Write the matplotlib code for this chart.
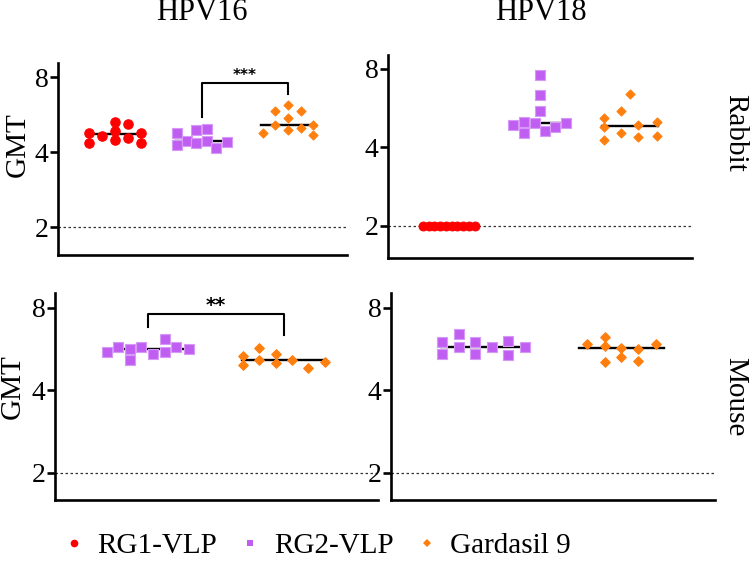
import numpy as np
import matplotlib.pyplot as plt
from matplotlib.lines import Line2D
from matplotlib.ticker import NullLocator

plt.rcParams['font.family'] = ['Liberation Serif', 'DejaVu Serif']

groups = ['RG1-VLP', 'RG2-VLP', 'Gardasil 9']
colors = ['#ff0000', '#c15ef2', '#ff7f0e']
edges = ['#ff0000', '#d59af7', '#ff7f0e']
markers = ['o', 's', 'D']

# GMT values (log2 axis)
hpv16_rabbit_rg1 = [4.78, 4.36, 4.64, 5.28, 4.84, 4.46, 5.17, 4.57, 4.77, 4.35]
hpv16_rabbit_rg2 = [4.75, 4.25, 4.42, 4.89, 4.33, 4.93, 4.42, 4.14, 4.37]
hpv16_rabbit_g9 = [4.78, 5.83, 5.12, 6.19, 5.48, 4.92, 5.83, 4.98, 5.12, 4.69]

hpv18_rabbit_rg1 = [2, 2, 2, 2, 2, 2, 2, 2, 2, 2]
hpv18_rabbit_rg2 = [4.88, 5.0, 4.53, 4.96, 7.61, 6.37, 5.50, 4.64, 4.81, 4.96]
hpv18_rabbit_g9 = [5.18, 4.81, 4.27, 5.50, 4.56, 6.41, 4.88, 4.38, 5.0, 4.44]

hpv16_mouse_rg2 = [5.54, 5.77, 5.66, 5.16, 5.74, 5.43, 6.16, 5.54, 5.74, 5.67]
hpv16_mouse_g9 = [5.34, 4.95, 5.71, 5.15, 5.42, 5.03, 5.15, 4.83, 5.06]

hpv18_mouse_rg2 = [6.02, 5.42, 6.42, 5.77, 6.0, 5.42, 5.77, 6.07, 5.40, 5.77]
hpv18_mouse_g9 = [5.92, 6.26, 5.79, 5.09, 5.69, 5.31, 5.66, 5.12, 5.93]

# horizontal scatter of the dots inside each column
sw_tl = [[-0.3, -0.3, -0.15, 0, 0, 0, 0.15, 0.15, 0.3, 0.3],
         [-0.29, -0.29, -0.17, -0.06, -0.06, 0.06, 0.06, 0.17, 0.29],
         [-0.29, -0.15, -0.15, 0, 0, 0, 0.15, 0.15, 0.29, 0.29]]
sw_tr = [list(np.linspace(-0.285, 0.285, 10)),
         [-0.29, -0.17, -0.17, -0.055, 0, 0, 0, 0.06, 0.17, 0.29],
         [-0.29, -0.29, -0.29, -0.1, -0.1, 0, 0.09, 0.09, 0.29, 0.29]]
sw_bl = [[-0.3, -0.22, -0.13, -0.13, -0.05, 0.04, 0.13, 0.13, 0.21, 0.3],
         [-0.3, -0.3, -0.18, -0.18, -0.06, -0.06, 0.06, 0.18, 0.3]]
sw_br = [[-0.3, -0.3, -0.18, -0.18, -0.06, -0.06, 0.06, 0.18, 0.18, 0.3],
         [-0.25, -0.12, -0.12, -0.12, 0, 0, 0.12, 0.12, 0.25]]


W, H = 750, 564
fig = plt.figure(figsize=(7.5, 5.64), dpi=100)


def rect(l, r, t, b):
    return [l / W, 1 - b / H, (r - l) / W, (b - t) / H]


def panel(r, series, kinds, swarm, ylo, yhi, xlim, sizes):
    ax = fig.add_axes(r)
    for i, (vals, k, off) in enumerate(zip(series, kinds, swarm)):
        xs = i + np.array(off)
        ax.scatter(xs, vals, marker=markers[k], s=sizes[k], color=colors[k],
                   edgecolors=edges[k], linewidths=0.8, zorder=3, clip_on=False)
        med = np.median(vals)
        ax.plot([i - 0.31, i + 0.31], [med, med], color='k', lw=1.7, zorder=2)
    ax.axhline(2, color='#333333', lw=0.9, dashes=(2, 2), zorder=1)
    ax.set_yscale('log', base=2)
    ax.set_ylim(2 ** ylo, 2 ** yhi)
    ax.set_xlim(*xlim)
    ax.set_yticks([2, 4, 8])
    ax.set_yticklabels(['2', '4', '8'])
    ax.yaxis.set_minor_locator(NullLocator())
    ax.set_xticks([])
    for s in ['top', 'right']:
        ax.spines[s].set_visible(False)
    for s in ['left', 'bottom']:
        ax.spines[s].set_linewidth(1.9)
    ax.tick_params(axis='y', length=6, width=1.9, labelsize=20, pad=1)
    return ax


def bracket(ax, x1, x2, y1, y2, top, stars, fs):
    ax.plot([x1, x1, x2, x2], [y1, top, top, y2], color='k', lw=1.5,
            clip_on=False, zorder=4)
    ax.annotate(stars, xy=((x1 + x2) / 2, top), xytext=(0, 1.8),
                textcoords='offset points', ha='center', va='baseline',
                fontsize=fs, fontweight='bold', family='DejaVu Sans')


ax1 = panel(rect(58, 347, 63, 255),
            [hpv16_rabbit_rg1, hpv16_rabbit_rg2, hpv16_rabbit_g9], [0, 1, 2],
            sw_tl, 0.627, 3.187, (-0.66, 2.68), [46, 46, 21])
bracket(ax1, 1, 2, 5.53, 6.86, 7.59, '***', 11)

ax2 = panel(rect(388, 692, 55, 258),
            [hpv18_rabbit_rg1, hpv18_rabbit_rg2, hpv18_rabbit_g9], [0, 1, 2],
            sw_tr, 0.592, 3.178, (-0.67, 2.68), [40, 46, 21])

ax3 = panel(rect(55, 378, 293, 500),
            [hpv16_mouse_rg2, hpv16_mouse_g9], [1, 2],
            sw_bl, 0.673, 3.18, (-0.68, 1.69), [0, 52, 24])
bracket(ax3, 0, 1, 6.83, 6.36, 7.63, '**', 14)

ax4 = panel(rect(391, 715, 293, 500),
            [hpv18_mouse_rg2, hpv18_mouse_g9], [1, 2],
            sw_br, 0.673, 3.18, (-0.67, 1.68), [0, 52, 24])

# column / row titles
fig.text(202 / W, 1 - 13 / H, 'HPV16', ha='center', va='center', fontsize=22)
fig.text(541 / W, 1 - 13 / H, 'HPV18', ha='center', va='center', fontsize=22)
fig.text(18 / W, 1 - 145 / H, 'GMT', ha='center', va='center', rotation=90, fontsize=21)
fig.text(13 / W, 1 - 387 / H, 'GMT', ha='center', va='center', rotation=90, fontsize=21)
fig.text(735 / W, 1 - 133 / H, 'Rabbit', ha='center', va='center', rotation=-90, fontsize=21)
fig.text(735 / W, 1 - 397 / H, 'Mouse', ha='center', va='center', rotation=-90, fontsize=21)

handles = [Line2D([], [], ls='none', marker=markers[k], color=colors[k],
                  markersize=[5.5, 5, 4.2][k], markeredgewidth=0) for k in range(3)]
fig.legend(handles, groups, loc='center', bbox_to_anchor=(318 / W, 1 - 546 / H),
           ncol=3, frameon=False, fontsize=21, handlelength=0.6,
           handletextpad=0.5, columnspacing=0.85, borderpad=0, borderaxespad=0)

fig.savefig('out.png', dpi=100)
